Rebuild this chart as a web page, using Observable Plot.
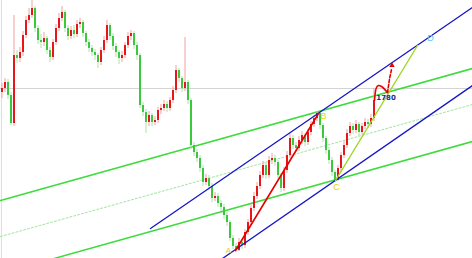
<!DOCTYPE html>
<html>
<head>
<meta charset="utf-8">
<script src="https://cdn.jsdelivr.net/npm/d3@7"></script>
<script src="https://cdn.jsdelivr.net/npm/@observablehq/plot@0.6"></script>
<style>
  html, body { margin: 0; padding: 0; background: #fff; overflow: hidden; }
  #chart svg { display: block; }
</style>
</head>
<body>
<div id="chart"></div>
<script>
// OHLC candles, one per bar
const open = [
  1776,1780,1786,1773,1745,1813,1810,1816,1833,1848,
  1853,1860,1840,1828,1826,1830,1818,1811,1826,1840,
  1850,1856,1840,1832,1838,1834,1844,1846,1835,1826,
  1820,1816,1813,1806,1818,1828,1843,1832,1822,1816,
  1810,1813,1823,1832,1835,1823,1813,1763,1756,1746,
  1753,1746,1748,1758,1760,1764,1760,1768,1778,1798,
  1790,1780,1786,1768,1723,1716,1710,1700,1686,1690,
  1682,1670,1672,1665,1661,1653,1646,1630,1622,1618,
  1626,1623,1636,1646,1660,1672,1682,1693,1703,1693,
  1708,1710,1706,1693,1680,1698,1713,1730,1723,1720,
  1728,1733,1726,1736,1744,1750,1755,1743,1730,1718,
  1708,1696,1688,1700,1713,1723,1735,1742,1738,1744,
  1736,1742,1746,1744,1750
];
const high = [
  1785,1790,1789,1776,1853,1818,1821,1837,1852,1860,
  1868,1862,1843,1834,1836,1832,1821,1829,1844,1855,
  1862,1858,1843,1842,1843,1848,1850,1848,1837,1829,
  1823,1819,1815,1821,1832,1848,1845,1835,1825,1818,
  1817,1826,1836,1838,1837,1826,1815,1766,1759,1757,
  1755,1752,1761,1764,1768,1767,1771,1782,1803,1800,
  1792,1831,1788,1770,1726,1719,1713,1703,1694,1693,
  1685,1676,1675,1668,1664,1656,1648,1633,1625,1630,
  1629,1639,1649,1664,1676,1686,1697,1707,1706,1712,
  1715,1713,1708,1695,1701,1717,1734,1733,1726,1732,
  1737,1735,1739,1747,1753,1757,1756,1745,1732,1721,
  1711,1698,1703,1716,1727,1739,1746,1745,1748,1746,
  1745,1750,1749,1754,1780
];
const low = [
  1770,1776,1769,1743,1742,1805,1806,1812,1830,1845,
  1850,1836,1824,1820,1822,1814,1806,1808,1823,1837,
  1847,1836,1828,1829,1830,1831,1840,1831,1822,1816,
  1812,1808,1800,1803,1815,1825,1828,1818,1811,1804,
  1806,1810,1820,1828,1819,1808,1760,1752,1735,1742,
  1742,1743,1745,1754,1757,1756,1757,1765,1775,1786,
  1776,1777,1764,1719,1712,1706,1696,1682,1683,1678,
  1666,1667,1661,1657,1649,1642,1627,1619,1616,1617,
  1619,1620,1633,1643,1657,1669,1679,1690,1689,1690,
  1704,1702,1689,1676,1677,1695,1710,1719,1716,1717,
  1724,1722,1723,1733,1741,1747,1739,1726,1714,1704,
  1692,1686,1687,1697,1710,1720,1732,1734,1735,1732,
  1733,1739,1740,1741,1747
];
const close = [
  1780,1786,1773,1745,1813,1810,1816,1833,1848,1853,
  1860,1840,1828,1826,1830,1818,1811,1826,1840,1850,
  1856,1840,1832,1838,1834,1844,1846,1835,1826,1820,
  1816,1813,1806,1818,1828,1843,1832,1822,1816,1810,
  1813,1823,1832,1835,1823,1813,1763,1756,1746,1753,
  1746,1748,1758,1760,1764,1760,1768,1778,1798,1790,
  1780,1786,1768,1723,1716,1710,1700,1686,1690,1682,
  1670,1672,1665,1661,1653,1646,1630,1622,1618,1626,
  1623,1636,1646,1660,1672,1682,1693,1703,1693,1708,
  1710,1706,1693,1680,1698,1713,1730,1723,1720,1728,
  1733,1726,1736,1744,1750,1755,1743,1730,1718,1708,
  1696,1688,1700,1713,1723,1735,1742,1738,1744,1736,
  1742,1746,1744,1750,1768
];

// ABCD pattern pivots (bar index, price)
const pivotNames = ["A", "B", "C", "D"];
const pivotBar   = [77.83, 105.5, 111.17, 138.5];
const pivotPrice = [1618, 1755, 1688, 1823];

// Horizontal level
const levelPrice = 1780;
const levelLabel = "1780";

// Blue rising channel (bar index / price at each end)
const upperChannelBar = [49.5, 156.83];
const upperChannelPrice = [1640, 1861];
const lowerChannelBar = [73.5, 156.83];
const lowerChannelPrice = [1610, 1783];

// Green fan lines spanning the whole chart
const fanBar = [-0.5, 156.83];
const fanTopPrice = [1668, 1800];
const fanMidPrice = [1632, 1764];
const fanLowPrice = [1595, 1727];

// Hand-drawn projection after the last candle
const projBar = [124.17, 124.83, 125.5, 126.5, 128.5];
const projPrice = [1768, 1781, 1783, 1782, 1776];
const projDashBar = [128.5, 129.2, 129.9];
const projDashPrice = [1776, 1790, 1800];
const projHeadBar = [130.0];
const projHeadPrice = [1803];

const bars = close.map((c, i) => ({
  i, open: open[i], high: high[i], low: low[i], close: c, up: c >= open[i]
}));
const pivots = pivotNames.map((name, k) => ({name, bar: pivotBar[k], price: pivotPrice[k]}));
const seg = (xs, ys) => xs.map((x, k) => ({x, y: ys[k]}));

const UP = "#e8161b", DOWN = "#3cc83c";
const UP_WICK = "#f3a1a1", DOWN_WICK = "#a9e4a9";
const BLUE = "#1616c8", GREEN = "#3ddc3d";

// label placement relative to each pivot
const labelStyle = {
  A: {dx: -7, dy: 0, fill: "#e8d200", size: 8},
  B: {dx: 5, dy: 3, fill: "#e8d200", size: 9},
  C: {dx: 1, dy: 7, fill: "#e8d200", size: 9},
  D: {dx: 13, dy: -7, fill: "#5ec8f0", size: 9}
};

const chart = Plot.plot({
  width: 472,
  height: 258,
  margin: 0,
  style: {background: "#fff"},
  x: {domain: [-0.5, 472 / 3 - 0.5], axis: null},
  y: {domain: [1610, 1868], axis: null},
  color: {type: "identity"},
  marks: [
    Plot.ruleX([-0.2], {stroke: "#dcdcdc"}),
    Plot.ruleY([levelPrice], {stroke: "#d4d4d4", strokeWidth: 1}),
    // fan lines
    Plot.line(seg(fanBar, fanTopPrice), {x: "x", y: "y", stroke: GREEN, strokeWidth: 1.5, clip: true}),
    Plot.line(seg(fanBar, fanMidPrice), {x: "x", y: "y", stroke: "#9fe59f", strokeWidth: 1, strokeDasharray: "2,2", clip: true}),
    Plot.line(seg(fanBar, fanLowPrice), {x: "x", y: "y", stroke: GREEN, strokeWidth: 1.5, clip: true}),
    // candles
    Plot.ruleX(bars, {x: "i", y1: "low", y2: "high", stroke: d => d.up ? UP_WICK : DOWN_WICK, strokeWidth: 1}),
    Plot.ruleX(bars, {x: "i", y1: "open", y2: "close", stroke: d => d.up ? UP : DOWN, strokeWidth: 2}),
    // channel
    Plot.line(seg(upperChannelBar, upperChannelPrice), {x: "x", y: "y", stroke: BLUE, strokeWidth: 1.3, clip: true}),
    Plot.line(seg(lowerChannelBar, lowerChannelPrice), {x: "x", y: "y", stroke: BLUE, strokeWidth: 1.3, clip: true}),
    // AB and CD legs
    Plot.line(pivots.slice(0, 2), {x: "bar", y: "price", stroke: "#e60000", strokeWidth: 1.6}),
    Plot.line(pivots.slice(2, 4), {x: "bar", y: "price", stroke: "#9ad824", strokeWidth: 1.4}),
    // projection
    Plot.line(seg(projBar, projPrice), {x: "x", y: "y", stroke: "#e60000", strokeWidth: 1.6, curve: "catmull-rom"}),
    Plot.line(seg(projDashBar, projDashPrice), {x: "x", y: "y", stroke: "#e60000", strokeWidth: 1.6, strokeDasharray: "3,2"}),
    Plot.dot(seg(projHeadBar, projHeadPrice), {x: "x", y: "y", symbol: "triangle2", r: 2.6, fill: "#e60000", stroke: "none"}),
    // labels
    ...pivots.map(p => Plot.text([p], {
      x: "bar", y: "price", text: "name",
      dx: labelStyle[p.name].dx, dy: labelStyle[p.name].dy,
      fill: labelStyle[p.name].fill,
      fontSize: labelStyle[p.name].size, fontFamily: "Liberation Sans, Arial, sans-serif"
    })),
    Plot.text([{x: projBar[4] - 0.5, y: levelPrice - 9}], {
      x: "x", y: "y", text: () => levelLabel,
      fill: "#1c2c90", fontSize: 7, fontWeight: "bold", fontFamily: "DejaVu Sans, sans-serif"
    })
  ]
});

document.getElementById("chart").appendChild(chart);
</script>
</body>
</html>
